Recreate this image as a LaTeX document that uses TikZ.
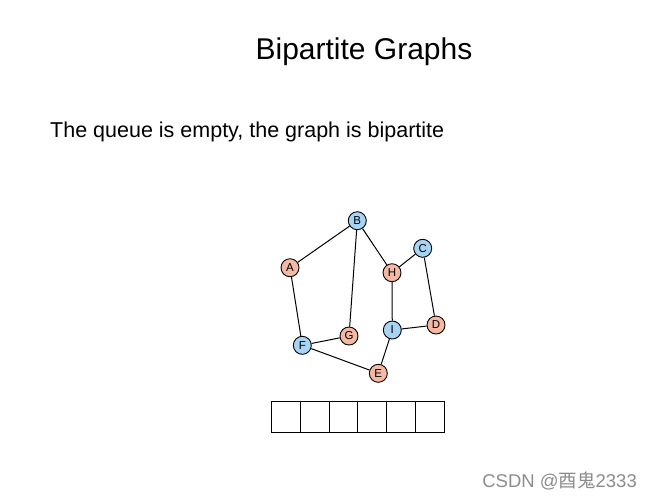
\documentclass[tikz,border=0pt]{standalone}
\usepackage{fontspec}
\setmainfont{Liberation Sans}
\newfontfamily\cjk{Noto Sans CJK SC}
\definecolor{sideA}{RGB}{166,212,242}
\definecolor{sideB}{RGB}{244,185,162}
\tikzset{
	vtx/.style={circle, draw, line width=0.9pt, minimum size=18pt, inner sep=0pt, font=\fontsize{11.5}{13}\selectfont},
	blue vtx/.style={vtx, fill=sideA},
	red vtx/.style={vtx, fill=sideB},
	cell/.style={draw, line width=0.8pt, minimum width=28.7pt, minimum height=31pt, inner sep=0pt}
}
\begin{document}
\begin{tikzpicture}[x=1pt, y=-1pt]
	\useasboundingbox (0, 0) rectangle (652, 499);
	\node[anchor=base] (title) at (364, 59) {\fontsize{30}{36}\selectfont Bipartite Graphs};
	\node[anchor=base west, inner sep=0pt] (msg) at (50, 137) {\fontsize{21.5}{26}\selectfont The queue is empty, the graph is bipartite};
	
	\node[blue vtx] (B) at (357.3, 220.7) {B};
	\node[red vtx] (A) at (290, 267.7) {A};
	\node[red vtx] (H) at (392, 272.7) {H};
	\node[blue vtx] (C) at (422.7, 248.3) {C};
	\node[blue vtx] (I) at (392.3, 330) {I};
	\node[red vtx] (D) at (436, 325) {D};
	\node[red vtx] (G) at (349, 336) {G};
	\node[blue vtx] (F) at (302.3, 345.3) {F};
	\node[red vtx] (E) at (378.3, 373.3) {E};
	
	\draw[line width=1pt] (A) -- (B) (B) -- (G) (B) -- (H) (H) -- (C) (C) -- (D)
		(H) -- (I) (I) -- (D) (I) -- (E) (F) -- (E) (F) -- (G) (A) -- (F);
	
	\foreach \i in {1,...,6}
		\node[cell] (q\i) at ({271.7 + 28.7*(\i - 0.5)}, 417.2) {};
	
	\node[anchor=base east, inner sep=0pt, text=black!45] (mark) at (637, 487) {\fontsize{18.5}{22}\selectfont CSDN @{\cjk 酉鬼}2333};
\end{tikzpicture}
\end{document}
